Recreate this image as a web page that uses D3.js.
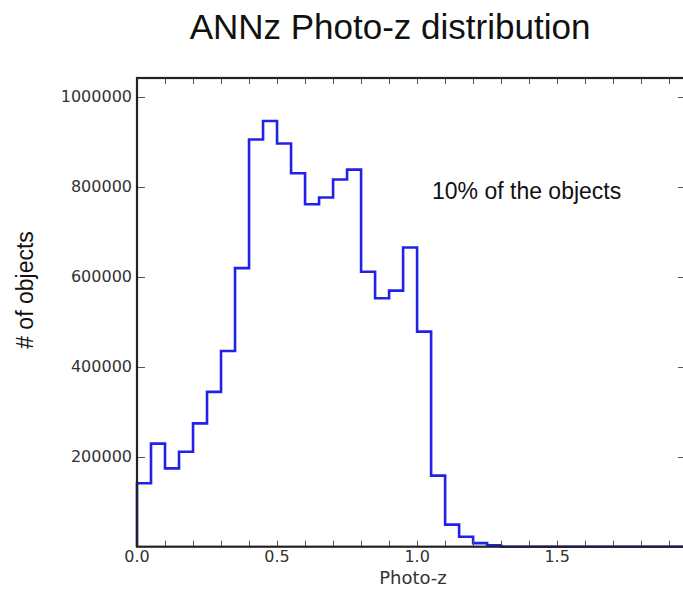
<!DOCTYPE html>
<html><head><meta charset="utf-8">
<script src="https://cdn.jsdelivr.net/npm/d3@7/dist/d3.min.js"></script>
<style>html,body{margin:0;padding:0;background:#fff;}</style>
</head><body>
<script>
// Histogram bin left edges (width 0.05) and counts
const binWidth = 0.05;
const binStarts = [0.00,0.05,0.10,0.15,0.20,0.25,0.30,0.35,0.40,0.45,0.50,0.55,0.60,0.65,0.70,0.75,0.80,0.85,0.90,0.95,1.00,1.05,1.10,1.15,1.20,1.25,1.30,1.35,1.40,1.45,1.50,1.55,1.60,1.65,1.70,1.75,1.80,1.85,1.90];
const counts = [141000,229000,174000,211000,274000,344000,435000,619000,905000,946000,896000,830000,761000,776000,816000,838000,611000,552000,569000,665000,478000,158000,49000,22000,8000,3000,0,0,0,0,0,0,0,0,0,0,0,0,0];
const xTickValues = [0,0.1,0.2,0.3,0.4,0.5,0.6,0.7,0.8,0.9,1.0,1.1,1.2,1.3,1.4,1.5,1.6,1.7,1.8,1.9];
const xTickLabels = ["0.0","0.5","1.0","1.5"];
const yTickValues = [200000,400000,600000,800000,1000000];
const titleText = "ANNz Photo-z distribution";
const xLabel = "Photo-z";
const yLabel = "# of objects";
const annotation = "10% of the objects";

const W = 683, H = 589;
const svg = d3.select("body").append("svg").attr("width", W).attr("height", H);
const x = d3.scaleLinear().domain([0, 1.96]).range([137, 686]);
const y = d3.scaleLinear().domain([0, 1041500]).range([546.7, 78]);

// step path
const pts = [[0, 0]];
binStarts.forEach((b, i) => { pts.push([b, counts[i]]); pts.push([b + binWidth, counts[i]]); });
pts.push([binStarts[binStarts.length-1] + binWidth, 0]);
const line = d3.line().x(d => x(d[0])).y(d => y(d[1]));
svg.append("path").attr("d", line(pts)).attr("fill", "none")
  .attr("stroke", "#2222e6").attr("stroke-width", 2.6).attr("stroke-linejoin", "miter");

// ticks (inward) on all sides
const tickCol = "#555";
const gT = svg.append("g");
xTickValues.forEach(v => {
  const px = Math.round(x(v)) + 0.5;
  gT.append("line").attr("x1", px).attr("x2", px).attr("y1", y(0)).attr("y2", y(0) - 6).attr("stroke", tickCol).attr("stroke-width", 1);
  gT.append("line").attr("x1", px).attr("x2", px).attr("y1", 78).attr("y2", 84).attr("stroke", tickCol).attr("stroke-width", 1);
});
yTickValues.forEach(v => {
  const py = Math.round(y(v)) + 0.5;
  gT.append("line").attr("x1", 137).attr("x2", 145).attr("y1", py).attr("y2", py).attr("stroke", tickCol).attr("stroke-width", 1);
  gT.append("line").attr("x1", 686).attr("x2", 678).attr("y1", py).attr("y2", py).attr("stroke", tickCol).attr("stroke-width", 1);
});

// axes frame (spines drawn above line)
svg.append("rect").attr("x", x(0)).attr("y", y(1041500)).attr("width", x(1.96) - x(0)).attr("height", y(0) - y(1041500))
  .attr("fill", "none").attr("stroke", "#222").attr("stroke-width", 2.2);

// tick labels
const tickFont = "DejaVu Sans";
xTickLabels.forEach(t => {
  svg.append("text").attr("x", x(+t)).attr("y", 562).attr("text-anchor", "middle")
    .attr("font-family", tickFont).attr("font-size", 16).attr("fill", "#333").text(t);
});
yTickValues.forEach(v => {
  svg.append("text").attr("x", 132).attr("y", y(v)).attr("dy", "0.36em").attr("text-anchor", "end")
    .attr("font-family", tickFont).attr("font-size", 16).attr("fill", "#333").text(String(v));
});

// labels
svg.append("text").attr("x", 413).attr("y", 584).attr("text-anchor", "middle")
  .attr("font-family", tickFont).attr("font-size", 18).attr("fill", "#333").text(xLabel);
svg.append("text").attr("transform", "translate(33,290) rotate(-90)").attr("text-anchor", "middle")
  .attr("font-family", "Liberation Sans, Arial, sans-serif").attr("font-size", 23).attr("fill", "#111").text(yLabel);
svg.append("text").attr("x", 390).attr("y", 39).attr("text-anchor", "middle")
  .attr("font-family", "Liberation Sans, Arial, sans-serif").attr("font-size", 35).attr("fill", "#111").text(titleText);
svg.append("text").attr("x", 432).attr("y", 199)
  .attr("font-family", "Liberation Sans, Arial, sans-serif").attr("font-size", 23).attr("fill", "#111").text(annotation);
</script>
</body></html>
